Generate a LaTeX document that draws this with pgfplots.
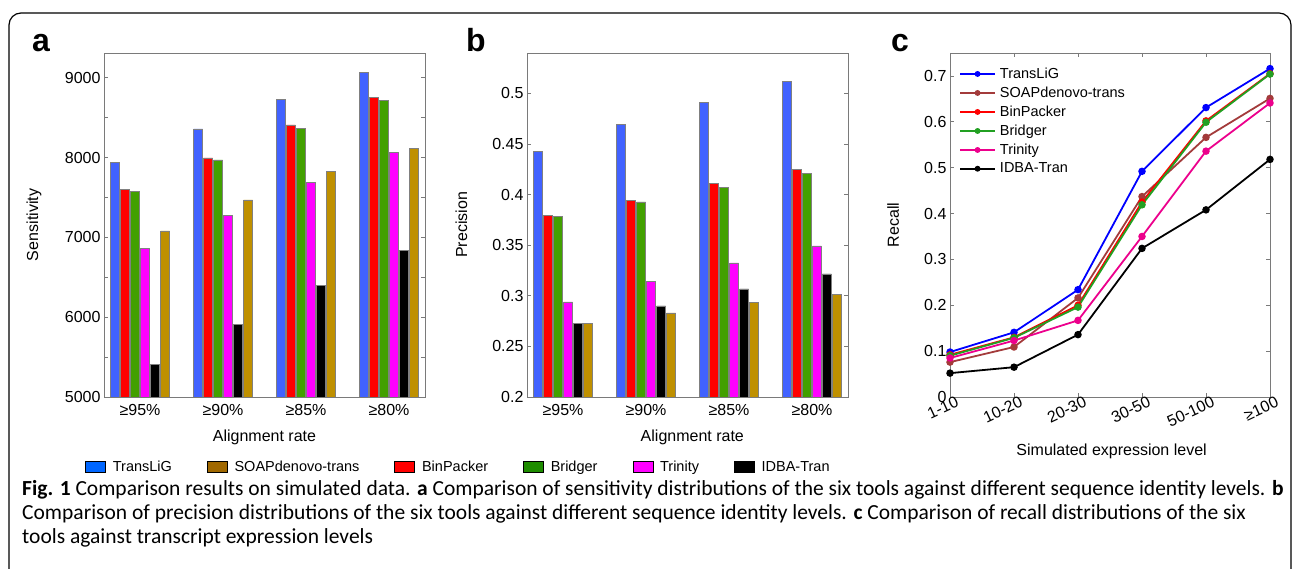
\documentclass[border=0pt]{standalone}
\usepackage{fontspec}
\setmainfont{Liberation Sans}
\newfontfamily\capfont{Carlito}
\usepackage{pgfplots}
\pgfplotsset{compat=1.18}

\definecolor{axgray}{HTML}{7A7A7A}
\definecolor{bargray}{HTML}{808080}
\definecolor{bBlue}{HTML}{4162FF}
\definecolor{bRed}{HTML}{FF0000}
\definecolor{bGreen}{HTML}{42A000}
\definecolor{bMag}{HTML}{FF00FF}
\definecolor{bGold}{HTML}{BF9000}
\definecolor{lBlue}{HTML}{0066FF}
\definecolor{lGold}{HTML}{A06800}
\definecolor{lGreen}{HTML}{1E8C00}
\definecolor{cBlue}{HTML}{0000FF}
\definecolor{cBrown}{HTML}{A33B3B}
\definecolor{cGreen}{HTML}{22A022}

\pgfplotsset{
  panel/.style={
    scale only axis, height=344pt, anchor=south west,
    axis line style={draw=axgray, line width=0.8pt},
    tick style={draw=axgray, line width=0.8pt},
    major tick length=4pt, minor tick length=4pt, tick align=inside,
    tick label style={font=\fontsize{16}{18}\selectfont},
    label style={font=\fontsize{16}{18}\selectfont},
    /pgf/number format/assume math mode=true,
    /pgf/number format/1000 sep={},
    scaled ticks=false,
  },
  barpanel/.style={
    panel, width=321pt, xmin=0.566, xmax=4.434,
    xtick={1,2,3,4}, xticklabels={≥95\%,≥90\%,≥85\%,≥80\%},
    x tick style={draw=none},
    ybar, bar width=9pt,
    xlabel={Alignment rate},
    xlabel style={at={(axis description cs:0.5,-0.116)}, anchor=center},
  },
  every axis plot/.append style={line width=0.6pt},
}

\begin{document}
\begin{tikzpicture}
\useasboundingbox (0,0) rectangle (1293pt,569pt);
\draw[line width=1.2pt, rounded corners=12pt] (9pt,-5pt) -- (9pt,556pt) -- (1291pt,556pt) -- (1291pt,-5pt);

\node[anchor=base west, font=\fontsize{32}{32}\selectfont\bfseries, inner sep=0pt] at (32pt,517pt) {a};
\node[anchor=base west, font=\fontsize{32}{32}\selectfont\bfseries, inner sep=0pt] at (466pt,517pt) {b};
\node[anchor=base west, font=\fontsize{32}{32}\selectfont\bfseries, inner sep=0pt] at (891pt,517pt) {c};

% panel a: sensitivity
\begin{axis}[barpanel, at={(104pt,172pt)},
  ymin=5000, ymax=9310, ytick={5000,6000,7000,8000,9000}, minor y tick num=1,
  ylabel={Sensitivity},
  ylabel style={at={(axis description cs:-0.218,0.5)}, anchor=center},
  legend columns=6,
  legend style={at={(axis description cs:-0.059,-0.2035)}, anchor=west,
    draw=none, fill=none, inner sep=0pt,
    font=\fontsize{14.5}{16}\selectfont,
    nodes={inner sep=1pt},
    /tikz/every odd column/.append style={column sep=6pt},
    /tikz/every even column/.append style={column sep=34pt}},
  legend image code/.code={\fill[#1] (0pt,-5.5pt) rectangle (20pt,5.5pt);},
]
\addlegendimage{fill=lBlue}
\addlegendimage{fill=lGold}
\addlegendimage{fill=bRed}
\addlegendimage{fill=lGreen}
\addlegendimage{fill=bMag}
\addlegendimage{fill=black}
\legend{TransLiG,SOAPdenovo-trans,BinPacker,Bridger,Trinity,IDBA-Tran}
\addplot[forget plot, bar shift=-25pt, fill=bBlue, draw=bargray] coordinates {(1,7940)(2,8358)(3,8733)(4,9071)};
\addplot[forget plot, bar shift=-15pt, fill=bRed, draw=bargray] coordinates {(1,7603)(2,7995)(3,8408)(4,8754)};
\addplot[forget plot, bar shift=-5pt, fill=bGreen, draw=bargray] coordinates {(1,7574)(2,7970)(3,8370)(4,8716)};
\addplot[forget plot, bar shift=5pt, fill=bMag, draw=bargray] coordinates {(1,6864)(2,7277)(3,7686)(4,8062)};
\addplot[forget plot, bar shift=15pt, fill=black, draw=bargray] coordinates {(1,5409)(2,5909)(3,6401)(4,6839)};
\addplot[forget plot, bar shift=25pt, fill=bGold, draw=bargray] coordinates {(1,7081)(2,7469)(3,7824)(4,8116)};
\end{axis}

% panel b: precision
\begin{axis}[barpanel, at={(527pt,172pt)},
  ymin=0.2, ymax=0.54, ytick={0.2,0.25,0.3,0.35,0.4,0.45,0.5},
  yticklabels={0.2,0.25,0.3,0.35,0.4,0.45,0.5},
  ylabel={Precision},
  ylabel style={at={(axis description cs:-0.204,0.5)}, anchor=center},
  xlabel style={at={(axis description cs:0.515,-0.116)}, anchor=center},
]
\addplot[bar shift=-25pt, fill=bBlue, draw=bargray] coordinates {(1,0.4426)(2,0.4693)(3,0.4914)(4,0.5119)};
\addplot[bar shift=-15pt, fill=bRed, draw=bargray] coordinates {(1,0.3793)(2,0.3945)(3,0.4110)(4,0.4248)};
\addplot[bar shift=-5pt, fill=bGreen, draw=bargray] coordinates {(1,0.3787)(2,0.3929)(3,0.4074)(4,0.4209)};
\addplot[bar shift=5pt, fill=bMag, draw=bargray] coordinates {(1,0.2940)(2,0.3141)(3,0.3325)(4,0.3493)};
\addplot[bar shift=15pt, fill=black, draw=bargray] coordinates {(1,0.2729)(2,0.2900)(3,0.3068)(4,0.3216)};
\addplot[bar shift=25pt, fill=bGold, draw=bargray] coordinates {(1,0.2729)(2,0.2831)(3,0.2933)(4,0.3012)};
\end{axis}

% panel c: recall
\begin{axis}[panel, at={(950pt,172pt)}, width=320pt,
  xmin=1, xmax=6, ymin=0, ymax=0.75,
  xtick={1,2,3,4,5,6}, xticklabels={1-10,10-20,20-30,30-50,50-100,≥100},
  xticklabel style={rotate=25, anchor=north east, inner sep=1pt, xshift=6pt},
  ytick={0,0.1,0.2,0.3,0.4,0.5,0.6,0.7},
  yticklabels={0,0.1,0.2,0.3,0.4,0.5,0.6,0.7},
  xlabel={Simulated expression level}, ylabel={Recall},
  xlabel style={at={(axis description cs:0.505,-0.159)}, anchor=center},
  ylabel style={at={(axis description cs:-0.178,0.5)}, anchor=center},
  every axis plot/.append style={line width=1.8pt, mark=*, mark size=2.8pt},
  legend style={at={(axis description cs:0.028,0.96)}, anchor=north west,
    draw=none, fill=none, inner sep=0pt, row sep=5pt,
    font=\fontsize{14.5}{16}\selectfont, nodes={inner sep=1pt},
    /tikz/every odd column/.append style={column sep=3pt}},
  legend image code/.code={%
    \draw[#1, mark=none] (0pt,0pt) -- (35pt,0pt);
    \draw[#1, only marks, mark size=2pt] plot coordinates {(17.5pt,0pt)};},
  legend cell align=left,
]
\addplot[cBlue] coordinates {(1,0.098)(2,0.141)(3,0.234)(4,0.492)(5,0.631)(6,0.716)};
\addplot[cBrown] coordinates {(1,0.076)(2,0.109)(3,0.216)(4,0.437)(5,0.566)(6,0.651)};
\addplot[red] coordinates {(1,0.092)(2,0.130)(3,0.200)(4,0.425)(5,0.602)(6,0.705)};
\addplot[cGreen] coordinates {(1,0.090)(2,0.129)(3,0.196)(4,0.419)(5,0.599)(6,0.704)};
\addplot[magenta] coordinates {(1,0.085)(2,0.123)(3,0.167)(4,0.350)(5,0.536)(6,0.641)};
\addplot[black] coordinates {(1,0.052)(2,0.065)(3,0.136)(4,0.324)(5,0.408)(6,0.518)};
\legend{TransLiG,SOAPdenovo-trans,BinPacker,Bridger,Trinity,IDBA-Tran}
\end{axis}

% caption
\begin{scope}[every node/.style={anchor=base west, inner sep=0pt, font=\capfont\fontsize{21.5}{24}\selectfont}]
\node at (22pt,73pt) {\textbf{Fig. 1} Comparison results on simulated data. \textbf{a} Comparison of sensitivity distributions of the six tools against different sequence identity levels. \textbf{b}};
\node at (22pt,49pt) {Comparison of precision distributions of the six tools against different sequence identity levels. \textbf{c} Comparison of recall distributions of the six};
\node at (22pt,25pt) {tools against transcript expression levels};
\end{scope}
\end{tikzpicture}
\end{document}
